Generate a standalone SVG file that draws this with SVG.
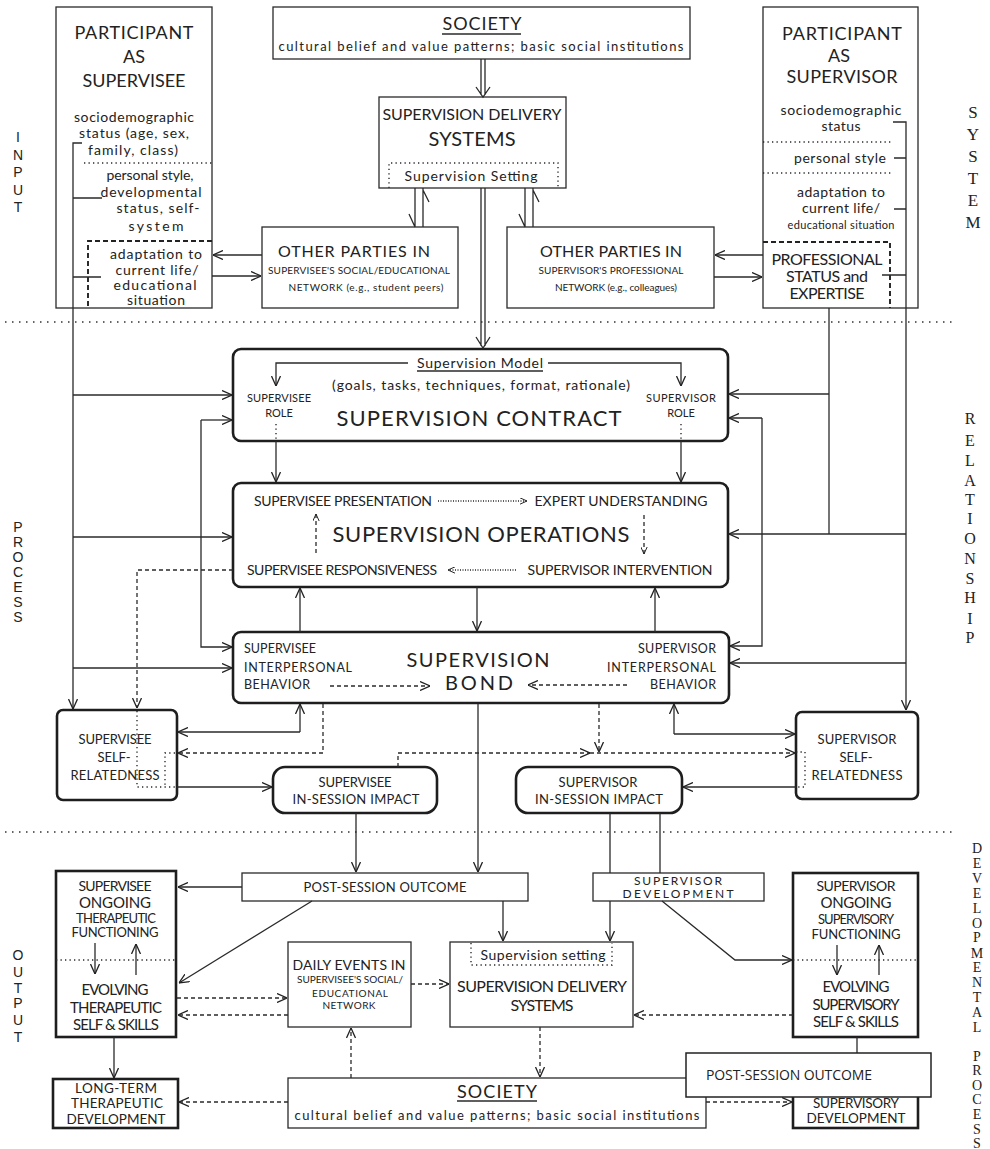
<svg xmlns="http://www.w3.org/2000/svg" width="990" height="1149" viewBox="0 0 990 1149">
<style>
text{font-family:Lato,"Liberation Sans",sans-serif;fill:#222;text-anchor:middle}
.serif{font-family:"Liberation Serif",serif}
.lbl{font-family:"Liberation Sans",sans-serif;font-size:14px}
.box{fill:#fff;stroke:#2a2a2a;stroke-width:1.3}
.thick{fill:#fff;stroke:#1e1e1e;stroke-width:2.6}
.c{fill:none;stroke:#2a2a2a;stroke-width:1.3}
.d{stroke-dasharray:4 3}
.dt{stroke-dasharray:1.3 3.2;stroke-width:1.4}
.sep{fill:none;stroke:#333;stroke-width:1.6;stroke-dasharray:1.5 5.5}
.bd{fill:none;stroke:#222;stroke-width:1.9;stroke-dasharray:5 3}
.l{text-anchor:start}
.r{text-anchor:end}
</style>
<defs>
<marker id="a" viewBox="0 0 10 10" refX="10" refY="5" markerWidth="10" markerHeight="10" markerUnits="userSpaceOnUse" orient="auto"><path d="M0,0.5 L10,5 L0,9.5" fill="none" stroke="#222" stroke-width="1.3"/></marker>
<marker id="s" viewBox="0 0 10 10" refX="10" refY="5" markerWidth="7" markerHeight="7" markerUnits="userSpaceOnUse" orient="auto"><path d="M0,0.5 L10,5 L0,9.5" fill="none" stroke="#222" stroke-width="1.4"/></marker>
</defs>
<rect width="990" height="1149" fill="#fff"/>

<!-- side labels -->
<g id="labels">
<text class="lbl" x="18" y="142">I</text><text class="lbl" x="18" y="160">N</text><text class="lbl" x="18" y="177">P</text><text class="lbl" x="18" y="195">U</text><text class="lbl" x="18" y="212">T</text>
<text class="lbl" x="18" y="532">P</text><text class="lbl" x="18" y="547">R</text><text class="lbl" x="18" y="562">O</text><text class="lbl" x="18" y="577">C</text><text class="lbl" x="18" y="592">E</text><text class="lbl" x="18" y="607">S</text><text class="lbl" x="18" y="622">S</text>
<text class="lbl" x="18" y="960">O</text><text class="lbl" x="18" y="977">U</text><text class="lbl" x="18" y="993">T</text><text class="lbl" x="18" y="1008">P</text><text class="lbl" x="18" y="1025">U</text><text class="lbl" x="18" y="1042">T</text>
<g font-size="17"><text class="serif" x="973" y="118">S</text><text class="serif" x="973" y="140">Y</text><text class="serif" x="973" y="162">S</text><text class="serif" x="973" y="184">T</text><text class="serif" x="973" y="206">E</text><text class="serif" x="973" y="228">M</text></g>
<g font-size="16"><text class="serif" x="970" y="424">R</text><text class="serif" x="970" y="446">E</text><text class="serif" x="970" y="466">L</text><text class="serif" x="970" y="486">A</text><text class="serif" x="970" y="505">T</text><text class="serif" x="970" y="524">I</text><text class="serif" x="970" y="544">O</text><text class="serif" x="970" y="564">N</text><text class="serif" x="970" y="584">S</text><text class="serif" x="970" y="603">H</text><text class="serif" x="970" y="624">I</text><text class="serif" x="970" y="643">P</text></g>
<g font-size="14"><text class="serif" x="977" y="853">D</text><text class="serif" x="977" y="868">E</text><text class="serif" x="977" y="883">V</text><text class="serif" x="977" y="898">E</text><text class="serif" x="977" y="913">L</text><text class="serif" x="977" y="928">O</text><text class="serif" x="977" y="942">P</text><text class="serif" x="977" y="958">M</text><text class="serif" x="977" y="972">E</text><text class="serif" x="977" y="987">N</text><text class="serif" x="977" y="1002">T</text><text class="serif" x="977" y="1017">A</text><text class="serif" x="977" y="1032">L</text><text class="serif" x="977" y="1061">P</text><text class="serif" x="977" y="1075">R</text><text class="serif" x="977" y="1090">O</text><text class="serif" x="977" y="1104">C</text><text class="serif" x="977" y="1119">E</text><text class="serif" x="977" y="1134">S</text><text class="serif" x="977" y="1148">S</text></g>
<path class="sep" d="M5,322 H957"/>
<path class="sep" d="M5,832 H952"/>
</g>

<g id="participant-supervisee">
<rect class="box" x="56" y="7" width="156" height="301"/>
<text x="134" y="39" font-size="18" textLength="119">PARTICIPANT</text>
<text x="134" y="63" font-size="18">AS</text>
<text x="134" y="87" font-size="18" textLength="103">SUPERVISEE</text>
<text x="134" y="122" font-size="14" textLength="120">sociodemographic</text>
<text x="134" y="138" font-size="14" textLength="110">status (age, sex,</text>
<text x="133" y="155" font-size="14" textLength="90">family, class)</text>
<path class="c dt" d="M84,163 H212"/>
<text x="150" y="180" font-size="14" textLength="87">personal style,</text>
<text x="151" y="197" font-size="14" textLength="101">developmental</text>
<text x="158" y="213" font-size="14" textLength="83">status, self-</text>
<text x="156" y="231" font-size="14" textLength="55">system</text>
<path class="bd" d="M212,241 H88 V308"/>
<text x="156" y="259" font-size="14" textLength="92">adaptation to</text>
<text x="157" y="275" font-size="14" textLength="83">current life/</text>
<text x="155" y="290" font-size="14" textLength="83">educational</text>
<text x="156" y="305" font-size="14" textLength="58">situation</text>
</g>

<g id="participant-supervisor">
<rect class="box" x="763" y="7" width="155" height="301"/>
<text x="842" y="40" font-size="18" textLength="120">PARTICIPANT</text>
<text x="839" y="62" font-size="18">AS</text>
<text x="842" y="83" font-size="18" textLength="111">SUPERVISOR</text>
<text x="841" y="115" font-size="14" textLength="121">sociodemographic</text>
<text x="841" y="131" font-size="14" textLength="39">status</text>
<path class="c dt" d="M763,142 H893"/>
<text x="840" y="163" font-size="14" textLength="92">personal style</text>
<path class="c dt" d="M763,173 H893"/>
<text x="841" y="197" font-size="14" textLength="88">adaptation to</text>
<text x="841" y="213" font-size="14" textLength="78">current life/</text>
<text x="841" y="229" font-size="11" textLength="107">educational situation</text>
<path class="bd" d="M763,242 H890 V308"/>
<text x="827" y="265" font-size="16" textLength="111">PROFESSIONAL</text>
<text x="827" y="282" font-size="16" textLength="82">STATUS and</text>
<text x="827" y="299" font-size="16" textLength="75">EXPERTISE</text>
</g>

<g id="society-top">
<rect class="box" x="273" y="7" width="417" height="52"/>
<text x="482" y="30" font-size="18" textLength="79">SOCIETY</text>
<path class="c" d="M442,34 H521" stroke-width="1"/>
<text x="481" y="51" font-size="13" textLength="405">cultural belief and value patterns; basic social institutions</text>
</g>

<g id="delivery-top">
<rect class="box" x="379" y="97" width="187" height="91"/>
<text x="472" y="120" font-size="16" textLength="179">SUPERVISION DELIVERY</text>
<text x="472" y="146" font-size="20" textLength="87">SYSTEMS</text>
<path class="c dt" d="M389,188 V163 H558 V188"/>
<text x="471" y="181" font-size="14" textLength="133">Supervision Setting</text>
</g>

<g id="others-supervisee">
<rect class="box" x="262" y="227" width="196" height="81"/>
<text x="354" y="257" font-size="16" textLength="152">OTHER PARTIES IN</text>
<text x="359" y="274" font-size="10" textLength="182">SUPERVISEE'S SOCIAL/EDUCATIONAL</text>
<text x="366" y="291" font-size="10" textLength="155">NETWORK (e.g., student peers)</text>
</g>

<g id="others-supervisor">
<rect class="box" x="507" y="227" width="207" height="81"/>
<text x="611" y="257" font-size="16" textLength="142">OTHER PARTIES IN</text>
<text x="611" y="274" font-size="10" textLength="145">SUPERVISOR'S PROFESSIONAL</text>
<text x="616" y="291" font-size="10" textLength="122">NETWORK (e.g., colleagues)</text>
</g>

<g id="contract">
<rect class="thick" x="233" y="349" width="495" height="92" rx="8"/>
<text x="480" y="368" font-size="14" textLength="126">Supervision Model</text>
<path class="c" d="M417,371 H543" stroke-width="1"/>
<text x="481" y="390" font-size="14" textLength="298">(goals, tasks, techniques, format, rationale)</text>
<text x="279" y="402" font-size="11" textLength="64">SUPERVISEE</text>
<text x="279" y="417" font-size="11">ROLE</text>
<text x="681" y="402" font-size="11" textLength="70">SUPERVISOR</text>
<text x="681" y="417" font-size="11">ROLE</text>
<text x="479" y="426" font-size="22" textLength="285">SUPERVISION CONTRACT</text>
</g>

<g id="operations">
<rect class="thick" x="233" y="483" width="495" height="104" rx="8"/>
<text x="343" y="506" font-size="14" textLength="178">SUPERVISEE PRESENTATION</text>
<text x="621" y="506" font-size="14" textLength="173">EXPERT UNDERSTANDING</text>
<text x="481" y="542" font-size="22" textLength="297">SUPERVISION OPERATIONS</text>
<text x="342" y="575" font-size="14" textLength="190">SUPERVISEE RESPONSIVENESS</text>
<text x="620" y="575" font-size="14" textLength="185">SUPERVISOR INTERVENTION</text>
</g>

<g id="bond">
<rect class="thick" x="233" y="632" width="496" height="71" rx="8"/>
<text class="l" x="244" y="653" font-size="12.5" textLength="72">SUPERVISEE</text>
<text class="l" x="244" y="672" font-size="12.5" textLength="108">INTERPERSONAL</text>
<text class="l" x="244" y="689" font-size="12.5" textLength="66">BEHAVIOR</text>
<text x="478" y="667" font-size="20" textLength="143">SUPERVISION</text>
<text x="479" y="690" font-size="20" textLength="68">BOND</text>
<text class="r" x="716" y="653" font-size="12.5" textLength="78">SUPERVISOR</text>
<text class="r" x="716" y="672" font-size="12.5" textLength="109">INTERPERSONAL</text>
<text class="r" x="716" y="689" font-size="12.5" textLength="66">BEHAVIOR</text>
</g>

<g id="supervisee-self">
<rect class="thick" x="57" y="710" width="120" height="90" rx="6"/>
<text x="115" y="744" font-size="13" textLength="73">SUPERVISEE</text>
<text x="114" y="762" font-size="13">SELF-</text>
<text x="115" y="780" font-size="13" textLength="89">RELATEDNESS</text>
</g>

<g id="supervisee-impact">
<rect class="thick" x="273" y="767" width="164" height="46" rx="12"/>
<text x="355" y="787" font-size="13" textLength="73">SUPERVISEE</text>
<text x="356" y="804" font-size="13" textLength="127">IN-SESSION IMPACT</text>
</g>

<g id="supervisor-impact">
<rect class="thick" x="516" y="767" width="166" height="46" rx="12"/>
<text x="598" y="787" font-size="13" textLength="79">SUPERVISOR</text>
<text x="599" y="804" font-size="13" textLength="128">IN-SESSION IMPACT</text>
</g>

<g id="supervisor-self">
<rect class="thick" x="796" y="712" width="122" height="87" rx="6"/>
<text x="857" y="744" font-size="13" textLength="79">SUPERVISOR</text>
<text x="856" y="762" font-size="13">SELF-</text>
<text x="857" y="780" font-size="13" textLength="91">RELATEDNESS</text>
</g>

<g id="post-session">
<rect class="box" x="242" y="873" width="286" height="28"/>
<text x="385" y="892" font-size="13" textLength="163">POST-SESSION OUTCOME</text>
</g>

<g id="supervisor-development">
<rect class="box" x="593" y="873" width="171" height="28"/>
<text x="678" y="885" font-size="12" textLength="88">SUPERVISOR</text>
<text x="678" y="898" font-size="12" textLength="111">DEVELOPMENT</text>
</g>

<g id="supervisee-ongoing">
<rect class="thick" x="56" y="871" width="120" height="166" stroke-width="2.3"/>
<text x="115" y="891" font-size="14" textLength="73">SUPERVISEE</text>
<text x="115" y="908" font-size="15" textLength="72">ONGOING</text>
<text x="116" y="923" font-size="13" textLength="80">THERAPEUTIC</text>
<text x="115" y="937" font-size="13" textLength="87">FUNCTIONING</text>
<path class="c dt" d="M56,960 H176"/>
<text x="115" y="995" font-size="15" textLength="67">EVOLVING</text>
<text x="116" y="1013" font-size="15" textLength="92">THERAPEUTIC</text>
<text x="116" y="1030" font-size="15" textLength="86">SELF &amp; SKILLS</text>
</g>

<g id="daily-events">
<rect class="box" x="288" y="942" width="123" height="85"/>
<text x="349" y="970" font-size="14" textLength="113">DAILY EVENTS IN</text>
<text x="350" y="983" font-size="10" textLength="106">SUPERVISEE'S SOCIAL/</text>
<text x="350" y="997" font-size="10" textLength="76">EDUCATIONAL</text>
<text x="349" y="1009" font-size="10" textLength="53">NETWORK</text>
</g>

<g id="delivery-bottom">
<rect class="box" x="450" y="942" width="183" height="85"/>
<path class="c dt" d="M471,943 V965 H612 V943"/>
<text x="543" y="960" font-size="14" textLength="125">Supervision setting</text>
<text x="542" y="992" font-size="16" textLength="170">SUPERVISION DELIVERY</text>
<text x="542" y="1011" font-size="16" textLength="63">SYSTEMS</text>
</g>

<g id="supervisor-ongoing">
<rect class="thick" x="793" y="873" width="125" height="164" stroke-width="2.3"/>
<text x="856" y="891" font-size="14" textLength="79">SUPERVISOR</text>
<text x="856" y="908" font-size="15" textLength="71">ONGOING</text>
<text x="856" y="924" font-size="13" textLength="76">SUPERVISORY</text>
<text x="856" y="939" font-size="13" textLength="89">FUNCTIONING</text>
<path class="c dt" d="M793,960 H918"/>
<text x="856" y="992" font-size="15" textLength="67">EVOLVING</text>
<text x="856" y="1010" font-size="15" textLength="87">SUPERVISORY</text>
<text x="856" y="1027" font-size="15" textLength="86">SELF &amp; SKILLS</text>
</g>

<g id="society-bottom">
<rect class="box" x="288" y="1078" width="418" height="50"/>
<text x="497" y="1098" font-size="18" textLength="80">SOCIETY</text>
<path class="c" d="M457,1101 H537" stroke-width="1"/>
<text x="497" y="1120" font-size="13" textLength="405">cultural belief and value patterns; basic social institutions</text>
</g>

<g id="long-term">
<rect class="thick" x="53" y="1079" width="125" height="49" stroke-width="2.3"/>
<text x="116" y="1093" font-size="13.5" textLength="82">LONG-TERM</text>
<text x="117" y="1108" font-size="13.5" textLength="92">THERAPEUTIC</text>
<text x="116" y="1124" font-size="13.5" textLength="99">DEVELOPMENT</text>
</g>

<g id="supervisory-development">
<rect class="thick" x="793" y="1070" width="125" height="58" stroke-width="2.3"/>
<text x="856" y="1108" font-size="13.5" textLength="86">SUPERVISORY</text>
<text x="856" y="1123" font-size="13.5" textLength="99">DEVELOPMENT</text>
</g>

<g id="connectors">
<path class="c" d="M481,59 V95 M485,59 V95 M476,87 L483,97 L490,87"/>
<path class="c" d="M481,188 V346 M485,188 V346 M476,337 L483,348 L490,337"/>
<path class="c" d="M415,188 V227 M409,214 L415,227 M423,227 V188 M423,190 L429,202"/>
<path class="c" d="M525,188 V227 M519,214 L525,227 M533,227 V188 M533,190 L539,202"/>
<path class="c" d="M262,255 H213" marker-end="url(#a)"/>
<path class="c" d="M212,276 H261" marker-end="url(#a)"/>
<path class="c" d="M763,255 H715" marker-end="url(#a)"/>
<path class="c" d="M714,277 H762" marker-end="url(#a)"/>
<path class="c" d="M82,143 H73 V709" marker-end="url(#a)"/>
<path class="c" d="M73,198 H102 M73,277 H101"/>
<path class="c" d="M73,395 H232" marker-end="url(#a)"/>
<path class="c" d="M73,537 H232" marker-end="url(#a)"/>
<path class="c" d="M73,668 H232" marker-end="url(#a)"/>
<path class="c" d="M201,420 H232" marker-end="url(#a)"/>
<path class="c" d="M201,420 V647 H232" marker-end="url(#a)"/>
<path class="c d" d="M233,570 H137 V708" marker-end="url(#a)"/>
<path class="c dt" d="M137,711 V787 H176 M175,753 H165 V787"/>
<path class="c" d="M893,122 H906 V710" marker-end="url(#a)"/>
<path class="c" d="M894,158 H906 M894,209 H906 M882,275 H906"/>
<path class="c" d="M906,663 H730" marker-end="url(#a)"/>
<path class="c" d="M906,534 H729" marker-end="url(#a)"/>
<path class="c" d="M829,308 V534"/>
<path class="c" d="M829,394 H729" marker-end="url(#a)"/>
<path class="c" d="M762,418 H729" marker-end="url(#a)"/>
<path class="c" d="M762,418 V646 H730" marker-end="url(#a)"/>
<path class="c" d="M408,363 H276 V386" marker-end="url(#a)"/>
<path class="c" d="M548,363 H681 V386" marker-end="url(#a)"/>
<path class="c dt" d="M276,424 V440 M681,424 V440"/>
<path class="c" d="M276,441 V482" marker-end="url(#a)"/>
<path class="c" d="M681,441 V482" marker-end="url(#a)"/>
<path class="c" d="M438,501 H527" stroke-dasharray="1 1.5" marker-end="url(#s)"/>
<path class="c" d="M516,570 H448" stroke-dasharray="1 1.5" marker-end="url(#s)"/>
<path class="c d" d="M316,553 V514" marker-end="url(#s)"/>
<path class="c d" d="M644,515 V554" marker-end="url(#s)"/>
<path class="c" d="M300,632 V588" marker-end="url(#a)"/>
<path class="c" d="M477,587 V631" marker-end="url(#a)"/>
<path class="c" d="M655,632 V588" marker-end="url(#a)"/>
<path class="c d" d="M330,686 H430" marker-end="url(#a)"/>
<path class="c d" d="M627,685 H528" marker-end="url(#a)"/>
<path class="c" d="M300,732 V704" marker-end="url(#a)"/>
<path class="c" d="M300,732 H178" marker-end="url(#a)"/>
<path class="c d" d="M323,704 V753 H178" marker-end="url(#a)"/>
<path class="c" d="M177,787 H272" marker-end="url(#a)"/>
<path class="c d" d="M398,767 V753 H590" marker-end="url(#a)"/>
<path class="c d" d="M590,753 H795" marker-end="url(#a)"/>
<path class="c d" d="M599,704 V752" marker-end="url(#a)"/>
<path class="c" d="M674,734 V704" marker-end="url(#a)"/>
<path class="c" d="M674,734 H795" marker-end="url(#a)"/>
<path class="c" d="M796,787 H683" marker-end="url(#a)"/>
<path class="c dt" d="M796,752 H805 V787 H796"/>
<path class="c" d="M478,704 V872" marker-end="url(#a)"/>
<path class="c" d="M356,813 V872" marker-end="url(#a)"/>
<path class="c" d="M610,813 V873 M660,813 V873"/>
<path class="c" d="M610,901 V941" marker-end="url(#a)"/>
<path class="c" d="M242,887 H178" marker-end="url(#a)"/>
<path class="c" d="M312,901 L179,983" marker-end="url(#a)"/>
<path class="c d" d="M177,998 H287" marker-end="url(#a)"/>
<path class="c d" d="M288,1015 H178" marker-end="url(#a)"/>
<path class="c d" d="M411,984 H449" marker-end="url(#a)"/>
<path class="c" d="M503,901 V941" marker-end="url(#a)"/>
<path class="c" d="M662,901 L735,960 H792" marker-end="url(#a)"/>
<path class="c d" d="M793,1015 H634" marker-end="url(#a)"/>
<path class="c d" d="M540,1027 V1077" marker-end="url(#a)"/>
<path class="c d" d="M351,1078 V1028" marker-end="url(#a)"/>
<path class="c d" d="M288,1102 H179" marker-end="url(#a)"/>
<path class="c" d="M114,1037 V1078" marker-end="url(#a)"/>
<path class="c d" d="M706,1102 H792" marker-end="url(#a)"/>
<path class="c" d="M857,1037 V1053"/>
<path class="c" d="M95,943 V974" marker-end="url(#a)"/>
<path class="c" d="M136,975 V944" marker-end="url(#a)"/>
<path class="c" d="M837,945 V975" marker-end="url(#a)"/>
<path class="c" d="M879,975 V945" marker-end="url(#a)"/>
</g>

<g id="post-session-overlay">
<rect x="686" y="1053" width="245" height="44" fill="#fff" stroke="#222" stroke-width="1.5"/>
<text class="l" x="706" y="1080" style="font-family:'Open Sans','Liberation Sans',sans-serif" font-size="14" textLength="166">POST-SESSION OUTCOME</text>
</g>
</svg>
